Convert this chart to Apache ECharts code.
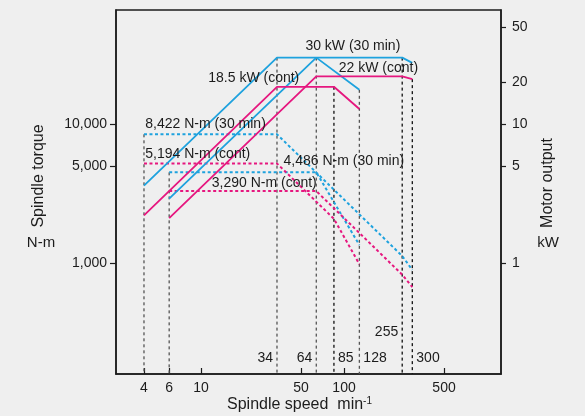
<!DOCTYPE html>
<html>
<head>
<meta charset="utf-8">
<script src="https://cdn.jsdelivr.net/npm/echarts@6/dist/echarts.min.js"></script>
<style>
html, body { margin: 0; padding: 0; background: #efefef; }
#main { width: 585px; height: 416px; }
</style>
</head>
<body>
<div id="main"></div>
<script>
// speed (min-1) vs motor output (kW)
var power30Low  = [[4, 3.6], [34, 30], [255, 30], [300, 27.5]];
var power185Low = [[4, 2.2], [34, 18.5], [85, 18.5], [128, 12.8]];
var power30High = [[6, 2.9], [64, 30], [128, 17.6]];
var power22High = [[6, 2.1], [64, 22], [255, 22], [300, 21]];

// speed (min-1) vs spindle torque (N-m)
var torque8422 = [[4, 8422], [34, 8422], [255, 1123], [300, 891]];
var torque5194 = [[4, 5194], [34, 5194], [85, 2078], [128, 980]];
var torque4486 = [[6, 4486], [64, 4486], [128, 1346]];
var torque3290 = [[6, 3290], [64, 3290], [255, 824], [300, 671]];

// dotted guide lines: speed and where they start (kW scale)
var speedMarks = [4, 6, 34, 64, 85, 128, 255, 300];
var markTops   = [8.422, 4.486, 30, 30, 18.5, 17.6, 30, 21];
var markDark   = [false, false, false, false, true, false, true, true];

var speedTicks  = [4, 6, 10, 50, 100, 500];
var torqueTicks = [1000, 5000, 10000];
var powerTicks  = [1, 5, 10, 20, 50];

var BLUE = '#1ea2de';
var PINK = '#e6177f';
var INK = '#1c1c1c';
var FONT = 'Liberation Sans, Arial, Helvetica, sans-serif';

// axis extents (torque N-m; output kW is the same scale / 1000)
var tMin = 159, tMax = 66000;

// text notes placed in data coordinates  [text, speed, value, axis(0 torque / 1 kW), side, gap]
var notes = [
    ['30 kW (30 min)',      53.7, 36,   1, 'right', 0],
    ['22 kW (cont)',        91.9, 25.4, 1, 'right', 0],
    ['18.5 kW (cont)',      11.25, 21.5, 1, 'right', 0],
    ['8,422 N-m (30 min)',  4.08, 9940, 0, 'right', 0],
    ['5,194 N-m (cont)',    4.08, 6080, 0, 'right', 0],
    ['4,486 N-m (30 min)',  37.8, 5440, 0, 'right', 0],
    ['3,290 N-m (cont)',    11.9, 3760, 0, 'right', 0]
];
// speed labels next to the guide lines
var speedLabelSide = {34: 'left', 64: 'left', 85: 'right', 128: 'right', 255: 'left', 300: 'right'};
var speedLabelLevel = {34: 0.207, 64: 0.207, 85: 0.207, 128: 0.207, 255: 0.320, 300: 0.207};

var myChart = echarts.init(document.getElementById('main'));

function curve(data, color, axis, dashed) {
    return {
        type: 'line',
        yAxisIndex: axis,
        data: data,
        symbol: 'none',
        silent: true,
        z: dashed ? 3 : 4,
        lineStyle: {
            color: color,
            width: dashed ? 2 : 1.8,
            type: dashed ? [3, 2.5] : 'solid'
        }
    };
}

var series = [];

speedMarks.forEach(function (s, i) {
    series.push({
        type: 'line',
        yAxisIndex: 1,
        data: [[s, markTops[i]], [s, tMin / 1000]],
        symbol: 'none',
        silent: true,
        z: 2,
        lineStyle: { color: markDark[i] ? '#111' : '#555', width: 1.3, type: [3, 3] }
    });
});

series.push(curve(torque8422, BLUE, 0, true));
series.push(curve(torque4486, BLUE, 0, true));
series.push(curve(torque5194, PINK, 0, true));
series.push(curve(torque3290, PINK, 0, true));
series.push(curve(power30Low, BLUE, 1, false));
series.push(curve(power30High, BLUE, 1, false));
series.push(curve(power185Low, PINK, 1, false));
series.push(curve(power22High, PINK, 1, false));

[0, 1].forEach(function (ax) {
    var pts = notes.filter(function (n) { return n[3] === ax; }).map(function (n) {
        return {
            name: n[0],
            value: [n[1], n[2]],
            label: { position: n[4], distance: n[5] }
        };
    });
    if (ax === 1) {
        speedMarks.forEach(function (s) {
            if (!speedLabelSide[s]) return;
            pts.push({
                name: String(s),
                value: [s, speedLabelLevel[s]],
                label: { position: speedLabelSide[s], distance: 4 }
            });
        });
    }
    series.push({
        type: 'scatter',
        yAxisIndex: ax,
        symbolSize: 0,
        silent: true,
        z: 6,
        itemStyle: { opacity: 1 },
        data: pts,
        label: {
            show: true,
            formatter: '{b}',
            color: INK,
            fontSize: 14,
            fontFamily: FONT
        }
    });
});

myChart.setOption({
    backgroundColor: '#efefef',
    animation: false,
    grid: {
        left: 116, right: 84, top: 10, bottom: 42,
        show: true,
        borderColor: INK,
        borderWidth: 1.5,
        backgroundColor: 'transparent'
    },
    xAxis: {
        type: 'log',
        min: 2.55,
        max: 1250,
        axisLine: { lineStyle: { color: INK, width: 1.5 } },
        axisTick: { inside: true, length: 6, lineStyle: { color: INK, width: 1.2 }, customValues: speedTicks },
        axisLabel: { customValues: speedTicks, color: INK, fontSize: 14, fontFamily: FONT, margin: 7 },
        minorTick: { show: false },
        splitLine: { show: false }
    },
    yAxis: [{
        type: 'log',
        min: tMin,
        max: tMax,
        axisLine: { show: true, lineStyle: { color: INK, width: 1.5 } },
        axisTick: { show: true, length: 6, lineStyle: { color: INK, width: 1.2 }, customValues: torqueTicks },
        axisLabel: {
            customValues: torqueTicks, color: INK, fontSize: 14, fontFamily: FONT, margin: 9,
            formatter: function (v) { return Math.round(v).toLocaleString('en-US'); }
        },
        splitLine: { show: false }
    }, {
        type: 'log',
        position: 'right',
        min: tMin / 1000,
        max: tMax / 1000,
        axisLine: { show: true, lineStyle: { color: INK, width: 1.5 } },
        axisTick: { show: true, length: 5, lineStyle: { color: INK, width: 1.2 }, customValues: powerTicks },
        axisLabel: {
            customValues: powerTicks, color: INK, fontSize: 14, fontFamily: FONT, margin: 11,
            formatter: function (v) { return String(Math.round(v)); }
        },
        splitLine: { show: false }
    }],
    graphic: [
        { type: 'text', x: 39, y: 176, rotation: Math.PI / 2,
          style: { text: 'Spindle torque', fill: INK, font: '16px ' + FONT, textAlign: 'center', textVerticalAlign: 'middle' } },
        { type: 'text', x: 41, y: 243,
          style: { text: 'N-m', fill: INK, font: '15px ' + FONT, textAlign: 'center', textVerticalAlign: 'middle' } },
        { type: 'text', x: 548, y: 183, rotation: Math.PI / 2,
          style: { text: 'Motor output', fill: INK, font: '16px ' + FONT, textAlign: 'center', textVerticalAlign: 'middle' } },
        { type: 'text', x: 548, y: 243,
          style: { text: 'kW', fill: INK, font: '15px ' + FONT, textAlign: 'center', textVerticalAlign: 'middle' } },
        { type: 'text', x: 227, y: 396,
          style: {
              text: '{a|Spindle speed  min}{b|-1}',
              rich: {
                  a: { fontSize: 16, fontFamily: FONT, fill: INK, color: INK, lineHeight: 18 },
                  b: { fontSize: 10, fontFamily: FONT, fill: INK, color: INK, verticalAlign: 'top', lineHeight: 18 }
              }
          } }
    ],
    series: series
});
</script>
</body>
</html>
